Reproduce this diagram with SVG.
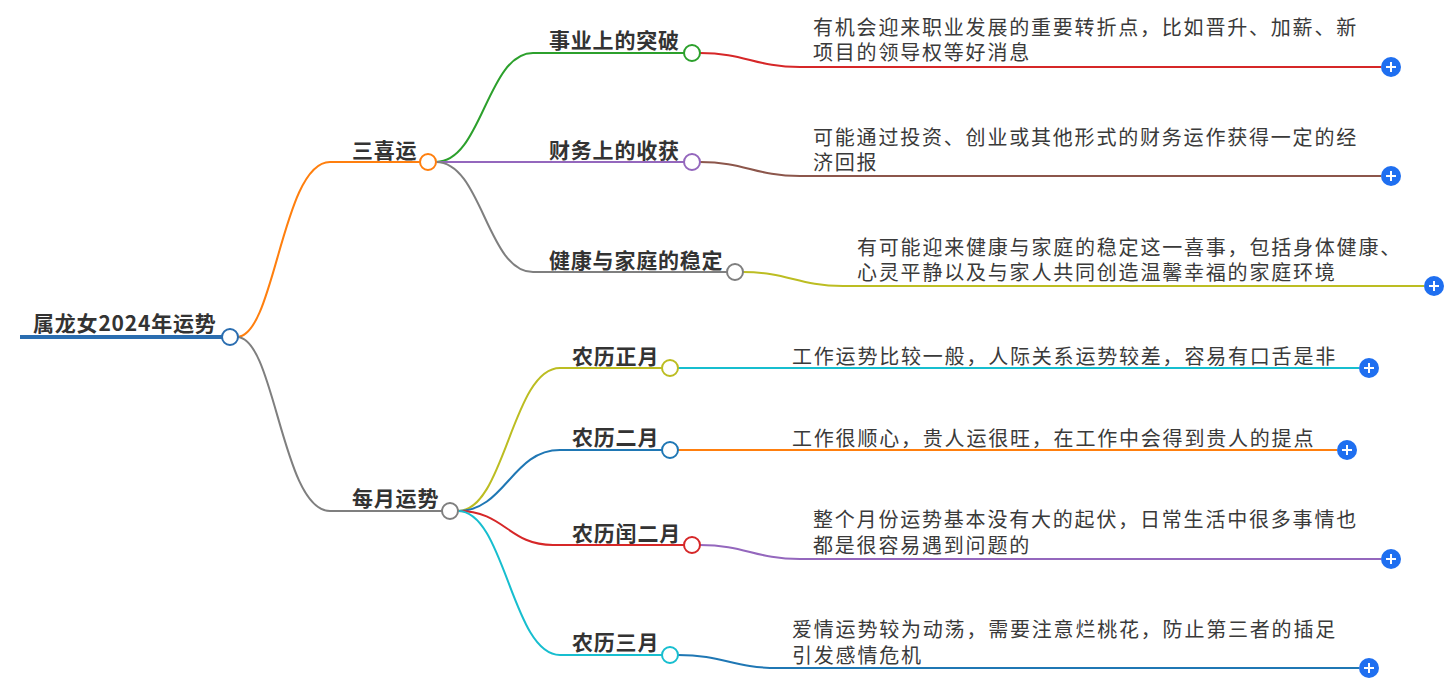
<svg xmlns="http://www.w3.org/2000/svg" width="1451" height="685" viewBox="0 0 1451 685">
<style>
.lbl{font-family:"Noto Sans CJK SC","Noto Sans",sans-serif;font-weight:bold;font-size:21px;letter-spacing:0.8px;fill:#333}
.txt{font-family:"Noto Sans CJK SC","Noto Sans",sans-serif;font-weight:normal;font-size:20px;letter-spacing:1.8px;fill:#3a3a3a}
.dot{fill:#fff;stroke-width:2}
.ln{fill:none;stroke-width:2}
.root{stroke-width:4}
.plus circle{fill:#1f6ff0}
.plus path{stroke:#fff;stroke-width:2;fill:none}
</style>
<defs>
<g id="pl" class="plus"><circle r="10"/><path d="M-5,0H5M0,-5V5"/></g>
</defs>
<rect width="1451" height="685" fill="#fff"/>
<g id="connectors">
<path class="ln root" d="M20,337 H222" stroke="#2a6db0"/>
<path class="ln" d="M237,337 C275,337 282,162 330,162 L420,162" stroke="#ff7f0e"/>
<path class="ln" d="M237,337 C275,337 282,511 330,511 L442,511" stroke="#7f7f7f"/>
<path class="ln" d="M436,162 C482,162 487,53 533,53 L684,53" stroke="#2ca02c"/>
<path class="ln" d="M436,162 L684,162" stroke="#9467bd"/>
<path class="ln" d="M436,162 C482,162 487,272 533,272 L727,272" stroke="#7f7f7f"/>
<path class="ln" d="M700,53 C745,53 755,67 800,67 L1381,67" stroke="#d62728"/>
<path class="ln" d="M700,162 C745,162 755,176 800,176 L1381,176" stroke="#8c564b"/>
<path class="ln" d="M743,272 C788,272 798,286 843,286 L1424,286" stroke="#bcbd22"/>
<path class="ln" d="M458,511 C505,511 512,368 560,368 L662,368" stroke="#bcbd22"/>
<path class="ln" d="M458,511 C505,511 512,450 560,450 L662,450" stroke="#1f77b4"/>
<path class="ln" d="M458,511 C505,511 508,545 553,545 L684,545" stroke="#d62728"/>
<path class="ln" d="M458,511 C505,511 512,655 560,655 L662,655" stroke="#17becf"/>
<path class="ln" d="M678,368 L1359,368" stroke="#17becf"/>
<path class="ln" d="M678,450 L1337,450" stroke="#ff7f0e"/>
<path class="ln" d="M700,545 C745,545 755,559 800,559 L1381,559" stroke="#9467bd"/>
<path class="ln" d="M678,655 C723,655 733,668 778,668 L1359,668" stroke="#1f77b4"/>
</g>
<g id="root">
<text class="lbl" x="33" y="331">属龙女2024年运势</text>
<circle class="dot" cx="230" cy="337" r="8" stroke="#2a6db0"/>
</g>
<g id="n-sanxi">
<text class="lbl" x="352" y="158">三喜运</text>
<circle class="dot" cx="428" cy="162" r="8" stroke="#ff7f0e"/>
</g>
<g id="n-meiyue">
<text class="lbl" x="352" y="506">每月运势</text>
<circle class="dot" cx="450" cy="511" r="8" stroke="#7f7f7f"/>
</g>
<g id="n-shiye">
<text class="lbl" x="549" y="48">事业上的突破</text>
<circle class="dot" cx="692" cy="53" r="8" stroke="#2ca02c"/>
</g>
<g id="n-caiwu">
<text class="lbl" x="549" y="158">财务上的收获</text>
<circle class="dot" cx="692" cy="162" r="8" stroke="#9467bd"/>
</g>
<g id="n-jiankang">
<text class="lbl" x="549" y="268">健康与家庭的稳定</text>
<circle class="dot" cx="735" cy="272" r="8" stroke="#7f7f7f"/>
</g>
<g id="n-zhengyue">
<text class="lbl" x="572" y="364">农历正月</text>
<circle class="dot" cx="670" cy="368" r="8" stroke="#bcbd22"/>
</g>
<g id="n-eryue">
<text class="lbl" x="572" y="445">农历二月</text>
<circle class="dot" cx="670" cy="450" r="8" stroke="#1f77b4"/>
</g>
<g id="n-runeryue">
<text class="lbl" x="572" y="541">农历闰二月</text>
<circle class="dot" cx="692" cy="545" r="8" stroke="#d62728"/>
</g>
<g id="n-sanyue">
<text class="lbl" x="572" y="650">农历三月</text>
<circle class="dot" cx="670" cy="655" r="8" stroke="#17becf"/>
</g>
<g id="d-shiye">
<text class="txt" x="813" y="35">有机会迎来职业发展的重要转折点，比如晋升、加薪、新<tspan x="813" y="60">项目的领导权等好消息</tspan></text>
<use href="#pl" x="1391" y="67"/>
</g>
<g id="d-caiwu">
<text class="txt" x="813" y="145">可能通过投资、创业或其他形式的财务运作获得一定的经<tspan x="813" y="170">济回报</tspan></text>
<use href="#pl" x="1391" y="176"/>
</g>
<g id="d-jiankang">
<text class="txt" x="857" y="255">有可能迎来健康与家庭的稳定这一喜事，包括身体健康、<tspan x="857" y="280">心灵平静以及与家人共同创造温馨幸福的家庭环境</tspan></text>
<use href="#pl" x="1434" y="286"/>
</g>
<g id="d-zhengyue">
<text class="txt" x="792" y="364">工作运势比较一般，人际关系运势较差，容易有口舌是非</text>
<use href="#pl" x="1369" y="368"/>
</g>
<g id="d-eryue">
<text class="txt" x="792" y="446">工作很顺心，贵人运很旺，在工作中会得到贵人的提点</text>
<use href="#pl" x="1347" y="450"/>
</g>
<g id="d-runeryue">
<text class="txt" x="813" y="527">整个月份运势基本没有大的起伏，日常生活中很多事情也<tspan x="813" y="553">都是很容易遇到问题的</tspan></text>
<use href="#pl" x="1391" y="559"/>
</g>
<g id="d-sanyue">
<text class="txt" x="792" y="637">爱情运势较为动荡，需要注意烂桃花，防止第三者的插足<tspan x="792" y="663">引发感情危机</tspan></text>
<use href="#pl" x="1369" y="668"/>
</g>
</svg>
